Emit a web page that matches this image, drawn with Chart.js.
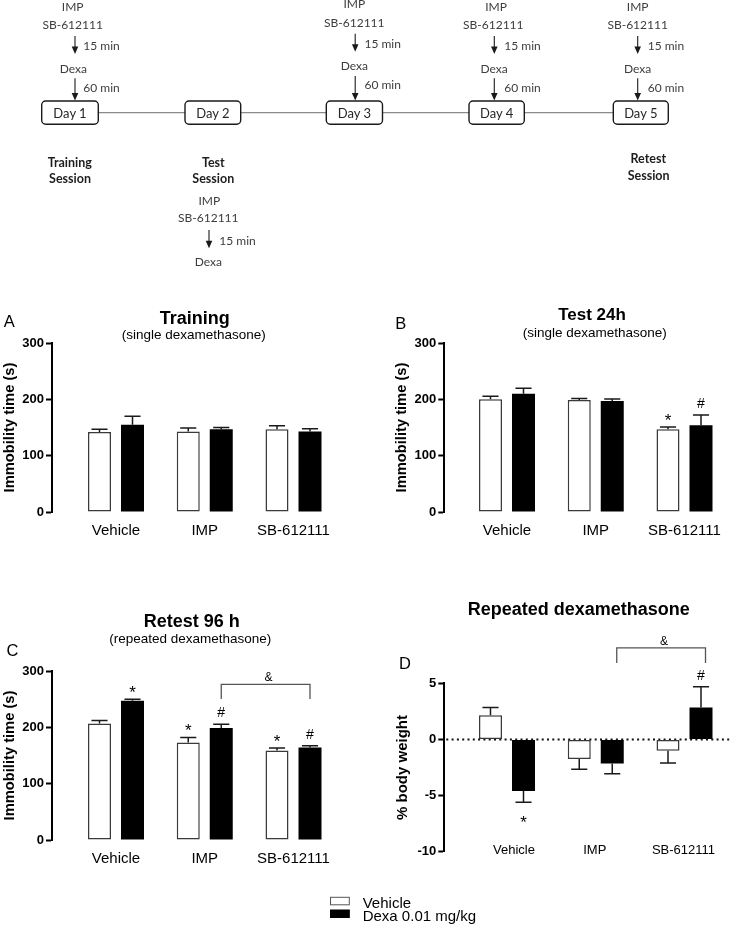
<!DOCTYPE html>
<html>
<head>
<meta charset="utf-8">
<script src="https://cdn.jsdelivr.net/npm/chart.js@4.4.1/dist/chart.umd.min.js"></script>
<style>
html, body { margin: 0; padding: 0; background: #fff; }
body { width: 731px; height: 932px; position: relative; overflow: hidden; }
.panel { position: absolute; }
#overlay { position: absolute; left: 0; top: 0; width: 731px; height: 932px; pointer-events: none; }
</style>
</head>
<body>
<div class="panel" id="pA"><canvas id="cA"></canvas></div>
<div class="panel" id="pB"><canvas id="cB"></canvas></div>
<div class="panel" id="pC"><canvas id="cC"></canvas></div>
<div class="panel" id="pD"><canvas id="cD"></canvas></div>
<svg id="overlay" xmlns="http://www.w3.org/2000/svg" width="731" height="932"></svg>
<script>
// ---------------- DATA ----------------
const categories = ['Vehicle', 'IMP', 'SB-612111'];
const seriesNames = ['Vehicle', 'Dexa 0.01 mg/kg'];
const seriesFill = ['#ffffff', '#000000'];
const seriesBorder = ['#3a3a3a', '#000000'];

// A: Training (single dexamethasone) - immobility time (s)
const trainVehicle = [142, 143, 147];
const trainVehicleSem = [5, 6, 6];
const trainDexa = [155, 147, 143];
const trainDexaSem = [15, 3, 5];

// B: Test 24h (single dexamethasone)
const testVehicle = [200, 199, 147];
const testVehicleSem = [5.5, 2.5, 4];
const testDexa = [210, 197, 154];
const testDexaSem = [9.5, 3.5, 18];

// C: Retest 96 h (repeated dexamethasone)
const retestVehicle = [207, 173, 159];
const retestVehicleSem = [5, 9, 4.5];
const retestDexa = [247, 199, 164];
const retestDexaSem = [3, 6.5, 3.5];

// D: Repeated dexamethasone - % body weight
const weightVehicle = [2.15, -1.75, -1.0];
const weightVehicleSem = [0.7, 0.9, 1.1];
const weightDexa = [-4.6, -2.15, 2.85];
const weightDexaSem = [1.0, 0.9, 1.85];

const immobilityTicks = [0, 100, 200, 300];
const weightTicks = [-10, -5, 0, 5];

// significance marks: series index (0 vehicle, 1 dexa), category index
const testMarks = [
  { series: 0, cat: 2, text: '*', side: 'above' },
  { series: 1, cat: 2, text: '#', side: 'above' }
];
const retestMarks = [
  { series: 1, cat: 0, text: '*', side: 'above' },
  { series: 0, cat: 1, text: '*', side: 'above' },
  { series: 1, cat: 1, text: '#', side: 'above' },
  { series: 0, cat: 2, text: '*', side: 'above' },
  { series: 1, cat: 2, text: '#', side: 'above' }
];
const weightMarks = [
  { series: 1, cat: 0, text: '*', side: 'below' },
  { series: 1, cat: 2, text: '#', side: 'above' }
];
const retestBrackets = [{ from: [1, 1], to: [1, 2], level: 276.4, drop: 250.3, dx: 0, text: '&' }];
const weightBrackets = [{ from: [1, 1], to: [1, 2], level: 8.15, drop: 6.8, dx: 4.5, text: '&' }];

// ---------------- HELPERS ----------------
const SANS = '"Liberation Sans", Arial, Helvetica, sans-serif';
Chart.defaults.font.family = SANS;
Chart.defaults.color = '#000';

const markStyle = { '*': { size: 17, gap: 1, below: 26 }, '#': { size: 14, gap: 7, below: 18 } };

const extrasPlugin = {
  id: 'extras',
  beforeDatasetsDraw(chart, args, opts) {
    if (!opts.zeroLine) return;
    const { ctx, chartArea } = chart;
    const y0 = chart.scales.y.getPixelForValue(0);
    ctx.save();
    ctx.strokeStyle = '#111';
    ctx.lineWidth = 2;
    ctx.setLineDash([2, 3.3]);
    ctx.beginPath();
    ctx.moveTo(chartArea.left + 2, y0);
    ctx.lineTo(chartArea.right, y0);
    ctx.stroke();
    ctx.restore();
  },
  afterDatasetsDraw(chart, args, opts) {
    const { ctx } = chart;
    const ys = chart.scales.y;
    const tipValue = (s, c) => {
      const ds = chart.data.datasets[s];
      const v = ds.data[c].y, e = ds.errors[c];
      return v >= 0 ? v + e : v - e;
    };
    // error bars (SEM, one-sided)
    chart.data.datasets.forEach((ds, s) => {
      chart.getDatasetMeta(s).data.forEach((bar, c) => {
        const yt = ys.getPixelForValue(tipValue(s, c));
        const half = bar.width * 0.35;
        ctx.save();
        ctx.strokeStyle = '#1a1a1a';
        ctx.lineWidth = 1.5;
        ctx.beginPath();
        ctx.moveTo(bar.x, bar.y);
        ctx.lineTo(bar.x, yt);
        ctx.moveTo(bar.x - half, yt);
        ctx.lineTo(bar.x + half, yt);
        ctx.stroke();
        ctx.restore();
      });
    });
    // significance marks
    (opts.marks || []).forEach(m => {
      const bar = chart.getDatasetMeta(m.series).data[m.cat];
      const yt = ys.getPixelForValue(tipValue(m.series, m.cat));
      const st = markStyle[m.text];
      ctx.save();
      ctx.fillStyle = '#000';
      ctx.font = st.size + 'px ' + SANS;
      ctx.textAlign = 'center';
      ctx.textBaseline = 'alphabetic';
      const y = m.side === 'below' ? yt + st.below : yt - st.gap;
      ctx.fillText(m.text, bar.x, y);
      ctx.restore();
    });
    // brackets
    (opts.brackets || []).forEach(b => {
      const b1 = chart.getDatasetMeta(b.from[0]).data[b.from[1]];
      const b2 = chart.getDatasetMeta(b.to[0]).data[b.to[1]];
      const x1 = b1.x + b.dx, x2 = b2.x + b.dx;
      const yl = ys.getPixelForValue(b.level), yd = ys.getPixelForValue(b.drop);
      ctx.save();
      ctx.strokeStyle = '#555';
      ctx.lineWidth = 1.3;
      ctx.beginPath();
      ctx.moveTo(x1, yd); ctx.lineTo(x1, yl); ctx.lineTo(x2, yl); ctx.lineTo(x2, yd);
      ctx.stroke();
      ctx.fillStyle = '#000';
      ctx.font = '12px ' + SANS;
      ctx.textAlign = 'center';
      ctx.fillText(b.text, (x1 + x2) / 2 + 3, yl - 3);
      ctx.restore();
    });
  },
  afterDraw(chart, args, opts) {
    // category labels drawn level with the bottom of the value axis (panel D)
    if (!opts.innerLabels) return;
    const { ctx, chartArea } = chart;
    const xs = chart.scales.x;
    ctx.save();
    ctx.fillStyle = '#000';
    ctx.font = opts.innerLabels.size + 'px ' + SANS;
    ctx.textAlign = 'center';
    ctx.textBaseline = 'middle';
    categories.forEach((c, i) => {
      ctx.fillText(c, xs.getPixelForValue(i + 1) + (opts.innerLabels.dx[i] || 0), chartArea.bottom + opts.innerLabels.dy);
    });
    ctx.restore();
  }
};

function makePanel(cfg) {
  const g = cfg.geo;
  const wrap = document.getElementById(cfg.wrap);
  wrap.style.left = g.L + 'px';
  wrap.style.top = g.T + 'px';
  wrap.style.width = g.W + 'px';
  wrap.style.height = g.H + 'px';
  const unit = 88.75; // px per category, used to map the chart area to category space
  const xmin = 1 - (cfg.firstCenter - g.left) / unit;
  const xmax = xmin + (g.right - g.left) / unit;
  const mk = (vals, sem, i) => ({
    label: seriesNames[i],
    data: vals.map((v, k) => ({ x: k + 1, y: v })),
    errors: sem,
    backgroundColor: seriesFill[i],
    borderColor: seriesBorder[i],
    borderWidth: i === 0 ? 1.5 : 0,
    borderSkipped: false,
    categoryPercentage: 0.7437,
    barPercentage: 0.697
  });
  const yTicks = cfg.yTicks;
  return new Chart(document.getElementById(cfg.canvas), {
    type: 'bar',
    data: { datasets: [mk(cfg.vehicle, cfg.vehicleSem, 0), mk(cfg.dexa, cfg.dexaSem, 1)] },
    plugins: [extrasPlugin],
    options: {
      responsive: true,
      maintainAspectRatio: false,
      animation: false,
      devicePixelRatio: 1,
      layout: { padding: { left: 0, top: g.top - g.T, right: g.L + g.W - g.right, bottom: g.T + g.H - g.bottom - g.xh } },
      plugins: {
        legend: { display: false },
        tooltip: { enabled: false },
        title: { display: false },
        extras: { marks: cfg.marks, brackets: cfg.brackets, zeroLine: cfg.zeroLine, innerLabels: cfg.innerLabels }
      },
      scales: {
        x: {
          type: 'linear',
          offset: false,
          min: xmin,
          max: xmax,
          afterBuildTicks: s => { s.ticks = categories.map((c, i) => ({ value: i + 1 })); },
          afterFit: s => { s.height = g.xh; s.paddingLeft = 0; s.paddingRight = 0; s.paddingTop = 0; s.paddingBottom = 0; },
          grid: { display: false, drawTicks: false },
          border: { display: false },
          ticks: {
            display: !cfg.innerLabels,
            autoSkip: false, maxRotation: 0, minRotation: 0,
            padding: cfg.xPad,
            color: '#000',
            font: { size: cfg.xFont, family: SANS },
            callback: v => categories[Math.round(v) - 1] || ''
          }
        },
        y: {
          type: 'linear',
          min: yTicks[0],
          max: yTicks[yTicks.length - 1],
          afterBuildTicks: s => { s.ticks = yTicks.map(v => ({ value: v })); },
          afterFit: s => { s.width = g.left - g.L; s.paddingLeft = 0; s.paddingRight = 0; s.paddingTop = 0; s.paddingBottom = 0; },
          grid: { display: true, drawOnChartArea: false, drawTicks: true, tickLength: 6, tickWidth: 2, tickColor: '#000', color: '#000' },
          border: { display: true, color: '#000', width: 2 },
          ticks: { padding: 2, color: '#000', font: { size: 13, weight: 'bold', family: SANS } },
          title: {
            display: true, text: cfg.yTitle, color: '#000',
            font: { size: cfg.yTitleSize, weight: 'bold', family: SANS },
            padding: { top: 1, bottom: 0 }
          }
        }
      }
    }
  });
}

makePanel({
  wrap: 'pA', canvas: 'cA',
  geo: { L: 0, T: 330, W: 365, H: 230, left: 52, top: 343, right: 347, bottom: 512, xh: 30 },
  firstCenter: 116,
  vehicle: trainVehicle, vehicleSem: trainVehicleSem, dexa: trainDexa, dexaSem: trainDexaSem,
  yTicks: immobilityTicks, yTitle: 'Immobility time (s)', yTitleSize: 14.7,
  xPad: 10, xFont: 15, marks: [], brackets: [], zeroLine: false
});
makePanel({
  wrap: 'pB', canvas: 'cB',
  geo: { L: 392, T: 330, W: 339, H: 230, left: 444.3, top: 343, right: 722, bottom: 512, xh: 30 },
  firstCenter: 507,
  vehicle: testVehicle, vehicleSem: testVehicleSem, dexa: testDexa, dexaSem: testDexaSem,
  yTicks: immobilityTicks, yTitle: 'Immobility time (s)', yTitleSize: 14.7,
  xPad: 10, xFont: 15, marks: testMarks, brackets: [], zeroLine: false
});
makePanel({
  wrap: 'pC', canvas: 'cC',
  geo: { L: 0, T: 660, W: 365, H: 220, left: 52, top: 671, right: 347, bottom: 840, xh: 30 },
  firstCenter: 116,
  vehicle: retestVehicle, vehicleSem: retestVehicleSem, dexa: retestDexa, dexaSem: retestDexaSem,
  yTicks: immobilityTicks, yTitle: 'Immobility time (s)', yTitleSize: 14.7,
  xPad: 10, xFont: 15, marks: retestMarks, brackets: retestBrackets, zeroLine: false
});
makePanel({
  wrap: 'pD', canvas: 'cD',
  geo: { L: 393, T: 630, W: 338, H: 250, left: 444.3, top: 683.3, right: 730, bottom: 851.7, xh: 20 },
  firstCenter: 507,
  vehicle: weightVehicle, vehicleSem: weightVehicleSem, dexa: weightDexa, dexaSem: weightDexaSem,
  yTicks: weightTicks, yTitle: '% body weight', yTitleSize: 15,
  xPad: 0, xFont: 13, marks: weightMarks, brackets: weightBrackets, zeroLine: true,
  innerLabels: { size: 13, dy: -1.5, dx: [7, -1, -1] }
});

// ---------------- OVERLAY: timeline, titles, legend ----------------
const svgNS = 'http://www.w3.org/2000/svg';
const svg = document.getElementById('overlay');
function el(tag, attrs, text) {
  const e = document.createElementNS(svgNS, tag);
  for (const k in attrs) e.setAttribute(k, attrs[k]);
  if (text != null) e.textContent = text;
  svg.appendChild(e);
  return e;
}
function txt(x, y, s, size, o) {
  o = o || {};
  return el('text', {
    x: x, y: y, 'font-size': size, 'font-family': o.family || SANS,
    'font-weight': o.weight || 'normal', fill: o.fill || '#000',
    'text-anchor': o.anchor || 'middle'
  }, s);
}
const TL = 'Lato, "Open Sans", sans-serif';
const TLC = '#3d3d3d';
function arrow(x, y1, y2) {
  el('line', { x1: x, y1: y1, x2: x, y2: y2 - 5, stroke: '#1a1a1a', 'stroke-width': 1.1 });
  el('polygon', { points: (x - 3.3) + ',' + (y2 - 7.5) + ' ' + (x + 3.3) + ',' + (y2 - 7.5) + ' ' + x + ',' + y2, fill: '#1a1a1a' });
}

// timeline
el('line', { x1: 98.3, y1: 112.7, x2: 613.3, y2: 112.7, stroke: '#8a8a8a', 'stroke-width': 1.3 });
const dayBoxes = [[41.7, 98.3], [185, 240.7], [326.3, 382.5], [469, 524.3], [613.3, 668.3]];
dayBoxes.forEach((b, i) => {
  el('rect', { x: b[0], y: 101, width: b[1] - b[0], height: 23.3, rx: 4, ry: 4, fill: '#fff', stroke: '#1a1a1a', 'stroke-width': 1.4 });
  txt((b[0] + b[1]) / 2, 117.8, 'Day ' + (i + 1), 13, { family: TL, fill: '#262626' });
});
const dosing = [
  { imp: 72.7, sb: 72.7, dexa: 73.3, ax: 75, minX: 83.3, dy: 0 },
  { imp: 354.3, sb: 354.3, dexa: 354.3, ax: 355.2, minX: 364.5, dy: -2.3 },
  { imp: 496, sb: 493.3, dexa: 494, ax: 494.3, minX: 504.3, dy: 0 },
  { imp: 637.7, sb: 637.7, dexa: 637.7, ax: 637.7, minX: 647.7, dy: 0 }
];
dosing.forEach(d => {
  txt(d.imp, 10.7 + d.dy, 'IMP', 12, { family: TL, fill: TLC });
  txt(d.sb, 29.3 + d.dy, 'SB-612111', 12, { family: TL, fill: TLC });
  arrow(d.ax, 36 + d.dy, 54 + d.dy);
  txt(d.minX, 50 + d.dy, '15 min', 12, { family: TL, fill: TLC, anchor: 'start' });
  txt(d.dexa, 72.7 + d.dy, 'Dexa', 12, { family: TL, fill: TLC });
  arrow(d.ax, 78.3 + d.dy, 100.5);
  txt(d.minX, 91.7 + d.dy, '60 min', 12, { family: TL, fill: TLC, anchor: 'start' });
});
// day 2 post-test dosing
txt(209.3, 205, 'IMP', 12, { family: TL, fill: TLC });
txt(208.3, 222, 'SB-612111', 12, { family: TL, fill: TLC });
arrow(209, 230, 248.3);
txt(219.3, 245, '15 min', 12, { family: TL, fill: TLC, anchor: 'start' });
txt(208.3, 266, 'Dexa', 12, { family: TL, fill: TLC });
// session labels
txt(69.8, 166.5, 'Training', 12.5, { family: TL, weight: 'bold', fill: '#1e1e1e' });
txt(70, 182.7, 'Session', 12.5, { family: TL, weight: 'bold', fill: '#1e1e1e' });
txt(213.3, 166.5, 'Test', 12.5, { family: TL, weight: 'bold', fill: '#1e1e1e' });
txt(213.3, 182.7, 'Session', 12.5, { family: TL, weight: 'bold', fill: '#1e1e1e' });
txt(648.3, 163.3, 'Retest', 12.5, { family: TL, weight: 'bold', fill: '#1e1e1e' });
txt(648.6, 180, 'Session', 12.5, { family: TL, weight: 'bold', fill: '#1e1e1e' });

// panel letters and titles
txt(9.2, 326.7, 'A', 16.5);
txt(194.7, 324.4, 'Training', 18, { weight: 'bold' });
txt(193.7, 339, '(single dexamethasone)', 13.5);
txt(400.7, 329, 'B', 16.5);
txt(592, 320, 'Test 24h', 17, { weight: 'bold' });
txt(594.7, 336.7, '(single dexamethasone)', 13.5);
txt(12.5, 656, 'C', 16.5);
txt(191.8, 627.3, 'Retest 96 h', 18, { weight: 'bold' });
txt(190.3, 642.7, '(repeated dexamethasone)', 13.5);
txt(405, 669, 'D', 16.5);
txt(578.7, 615, 'Repeated dexamethasone', 18, { weight: 'bold' });

// legend
const legendRows = [{ y: 897.3, base: 907.5 }, { y: 910, base: 920.5 }];
seriesNames.forEach((name, i) => {
  el('rect', { x: 330.5, y: legendRows[i].y, width: 18.8, height: 7.5, fill: seriesFill[i], stroke: i === 0 ? '#555' : '#000', 'stroke-width': 1 });
  txt(362.7, legendRows[i].base, name, 15, { anchor: 'start' });
});
</script>
</body>
</html>
